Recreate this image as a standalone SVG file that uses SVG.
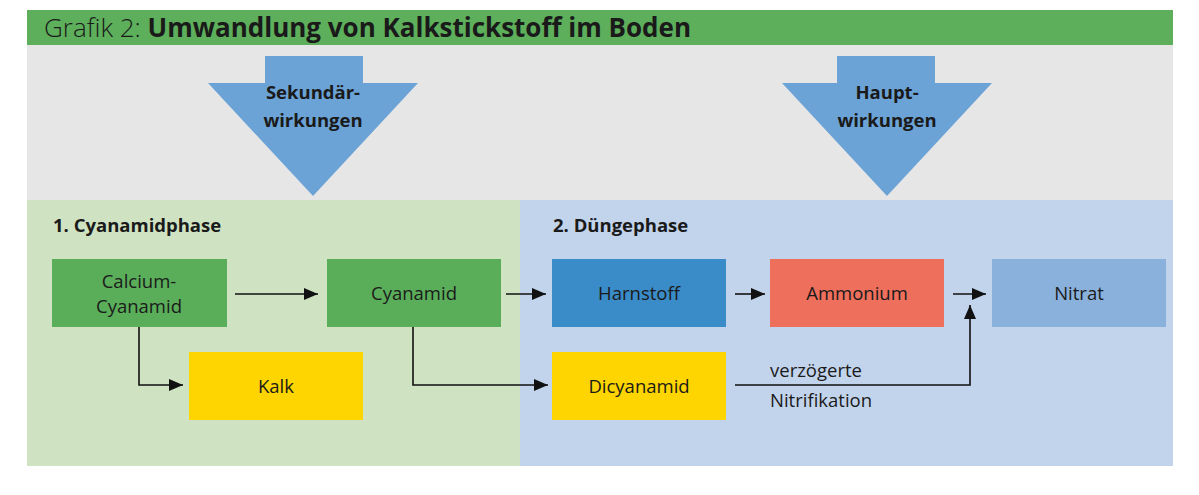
<svg xmlns="http://www.w3.org/2000/svg" width="1199" height="495" viewBox="0 0 1199 495">
<defs>
<style>
.t{font-family:"Open Sans","Liberation Sans",sans-serif;fill:#1a1a1a}
.box{font-size:18.5px;text-anchor:middle}
.b{font-weight:bold}
.ph{font-size:18.5px;font-weight:bold}
.big{font-size:18.5px;font-weight:bold;text-anchor:middle}
.ln{stroke:#111;stroke-width:1.6;fill:none}
</style>
<marker id="ah" viewBox="0 0 14 12" refX="14" refY="6" markerWidth="14" markerHeight="12" markerUnits="userSpaceOnUse" orient="auto"><path d="M0,0 L14,6 L0,12 z" fill="#111"/></marker>
</defs>
<rect x="0" y="0" width="1199" height="495" fill="#fff"/>
<g id="title">
<rect x="27" y="10" width="1146" height="35" fill="#5daf5b"/>
<text x="44" y="37" class="t" font-size="26"><tspan font-weight="300">Grafik 2: </tspan><tspan class="b">Umwandlung von Kalkstickstoff im Boden</tspan></text>
</g>
<rect x="27" y="45" width="1146" height="155" fill="#e6e6e6"/>
<g id="phase1">
<rect x="27" y="200" width="493" height="266" fill="#cfe3c3"/>
<text x="53" y="232" class="t ph">1. Cyanamidphase</text>
</g>
<g id="phase2">
<rect x="520" y="200" width="653" height="266" fill="#c2d4ec"/>
<text x="553" y="232" class="t ph">2. Düngephase</text>
</g>
<g id="arrow-sek">
<path d="M265,56 H363 V83 H418 L313,196 L208,83 H265 Z" fill="#6ba3d6"/>
<text x="313" y="99" class="t big">Sekundär-</text>
<text x="313" y="127" class="t big">wirkungen</text>
</g>
<g id="arrow-haupt">
<path d="M837,56 H935 V83 H992 L887,196 L782,83 H837 Z" fill="#6ba3d6"/>
<text x="887" y="99" class="t big">Haupt-</text>
<text x="887" y="127" class="t big">wirkungen</text>
</g>
<g id="calcium">
<rect x="52" y="259" width="175" height="68" fill="#5aae5a"/>
<text x="139" y="288" class="t box">Calcium-</text>
<text x="139" y="313" class="t box">Cyanamid</text>
</g>
<g id="cyanamid">
<rect x="327" y="259" width="174" height="68" fill="#5aae5a"/>
<text x="414" y="300" class="t box">Cyanamid</text>
</g>
<g id="harnstoff">
<rect x="552" y="259" width="174" height="68" fill="#3a8cc8"/>
<text x="639" y="300" class="t box">Harnstoff</text>
</g>
<g id="ammonium">
<rect x="770" y="259" width="174" height="68" fill="#ee6f5c"/>
<text x="857" y="300" class="t box">Ammonium</text>
</g>
<g id="nitrat">
<rect x="992" y="259" width="174" height="68" fill="#8ab1dc"/>
<text x="1079" y="300" class="t box">Nitrat</text>
</g>
<g id="kalk">
<rect x="189" y="352" width="174" height="68" fill="#fed500"/>
<text x="276" y="393" class="t box">Kalk</text>
</g>
<g id="dicyanamid">
<rect x="552" y="352" width="174" height="68" fill="#fed500"/>
<text x="639" y="393" class="t box">Dicyanamid</text>
</g>
<g id="connectors">
<path class="ln" d="M235,294 H318" marker-end="url(#ah)"/>
<path class="ln" d="M506,294 H546" marker-end="url(#ah)"/>
<path class="ln" d="M735,294 H765" marker-end="url(#ah)"/>
<path class="ln" d="M953,294 H986" marker-end="url(#ah)"/>
<path class="ln" d="M139,327 V385 H183" marker-end="url(#ah)"/>
<path class="ln" d="M413,327 V385 H548" marker-end="url(#ah)"/>
<path class="ln" d="M735,385 H970 V305" marker-end="url(#ah)"/>
<text x="770" y="377" class="t" font-size="18.5">verzögerte</text>
<text x="770" y="407" class="t" font-size="18.5">Nitrifikation</text>
</g>
</svg>
